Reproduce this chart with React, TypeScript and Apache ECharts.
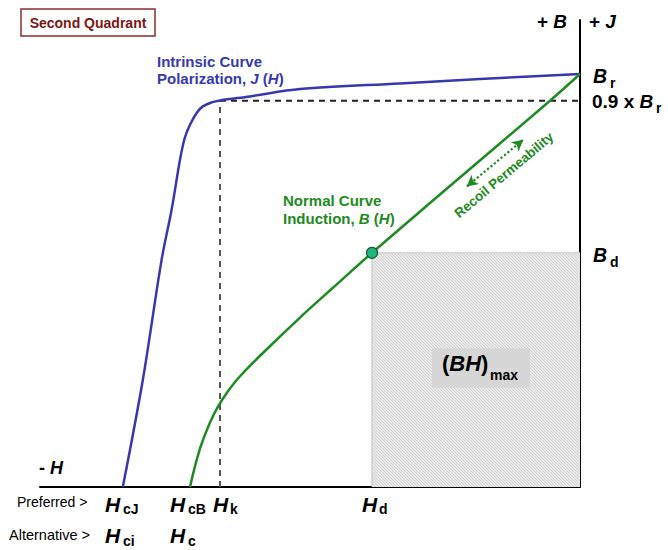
import React, { useEffect, useRef } from "react";
import * as echarts from "echarts";

// Field strength H (negative, second quadrant) and flux density / polarization values
const intrinsicH = [-1143, -1093, -1046, -1021, -1000, -988, -975, -958, -943, -921, -900, -825, -700, -450, -250, 0];
const intrinsicJ = [0, 321, 681, 831, 981, 1047, 1086, 1122, 1141, 1153, 1159, 1171, 1193, 1210, 1223, 1238];
const normalH = [-975, -951, -925, -904, -883, -850, -783, -700, -617, -520, -345, -75, 0];
const normalB = [0, 111, 193, 243, 282, 332, 413, 508, 598, 702, 882, 1158, 1238];
const kneeH = -900; // Hk
const kneeJ = 1158; // 0.9 x Br
const operatingH = -520; // Hd
const operatingB = 702; // Bd
const hRange = [-1350, 0];
const bRange = [0, 1400];
const recoilArrow = [[-283, 901], [-142, 1041]];

const FONT = "'Liberation Sans', Arial, sans-serif";
const BLUE = "#3838ad";
const GREEN = "#1e8a22";

function tok(size: number, italic: boolean, color: string, weight = "bold") {
  return { fontSize: size, fontStyle: italic ? "italic" : "normal", fontWeight: weight, fontFamily: FONT, fill: color };
}

function txt(x: number, y: number, text: string, rich: any, align = "left", extra: any = {}) {
  return {
    type: "text",
    x,
    y,
    silent: true,
    z: 100,
    ...extra,
    style: { text, rich, textAlign: align, textVerticalAlign: "middle", fontFamily: FONT },
  };
}

export default function App() {
  const ref = useRef<HTMLDivElement>(null);
  useEffect(() => {
    if (!ref.current) return;
    const chart = echarts.init(ref.current, undefined, { renderer: "svg" });
    const blueData = intrinsicH.map((h, i) => [h, intrinsicJ[i]]);
    const greenData = normalH.map((h, i) => [h, normalB[i]]);
    chart.setOption({
      animation: false,
      grid: { left: 40, right: 88, top: 20, bottom: 63 },
      xAxis: {
        type: "value",
        min: hRange[0],
        max: hRange[1],
        axisLine: { show: true, onZero: false, lineStyle: { color: "#000", width: 2 } },
        axisTick: { show: false },
        axisLabel: { show: false },
        splitLine: { show: false },
      },
      yAxis: {
        type: "value",
        position: "right",
        min: bRange[0],
        max: bRange[1],
        axisLine: { show: true, onZero: false, lineStyle: { color: "#000", width: 2 } },
        axisTick: { show: false },
        axisLabel: { show: false },
        splitLine: { show: false },
      },
      series: [
        {
          type: "custom",
          silent: true,
          z: 1,
          data: [[operatingH, operatingB]],
          renderItem: (params: any, api: any) => {
            const p0 = api.coord([api.value(0), api.value(1)]);
            const p1 = api.coord([0, 0]);
            const x0 = p0[0], y0 = p0[1], x1 = p1[0], y1 = p1[1];
            const children: any[] = [
              { type: "rect", shape: { x: x0, y: y0, width: x1 - x0, height: y1 - y0 }, style: { fill: "#ececec" } },
            ];
            const step = 3;
            for (let c = y0 - x1; c <= y1 - x0; c += step) {
              const sx = Math.max(x0, y0 - c);
              const ex = Math.min(x1, y1 - c);
              if (ex > sx) {
                children.push({
                  type: "line",
                  shape: { x1: sx, y1: sx + c, x2: ex, y2: ex + c },
                  style: { stroke: "#c4c4c4", lineWidth: 0.8 },
                });
              }
            }
            children.push({ type: "line", shape: { x1: x0, y1: y0, x2: x0, y2: y1 }, style: { stroke: "#bdbdbd", lineWidth: 1 } });
            children.push({ type: "line", shape: { x1: x0, y1: y0, x2: x1, y2: y0 }, style: { stroke: "#c8c8c8", lineWidth: 1 } });
            return { type: "group", children };
          },
        },
        {
          type: "line",
          data: [[kneeH, 0], [kneeH, kneeJ]],
          symbol: "none",
          silent: true,
          z: 2,
          lineStyle: { color: "#555", width: 2, type: [6, 5] },
        },
        {
          type: "line",
          data: [[kneeH, kneeJ], [0, kneeJ]],
          symbol: "none",
          silent: true,
          z: 2,
          lineStyle: { color: "#222", width: 2, type: [6, 5] },
        },
        {
          type: "line",
          data: blueData,
          symbol: "none",
          smooth: 0.35,
          silent: true,
          z: 3,
          lineStyle: { color: BLUE, width: 2.5 },
        },
        {
          type: "line",
          data: greenData,
          symbol: "none",
          smooth: 0.4,
          silent: true,
          z: 3,
          lineStyle: { color: GREEN, width: 2.5 },
          markLine: {
            silent: true,
            symbol: ["arrow", "arrow"],
            symbolSize: [9, 11],
            label: { show: false },
            lineStyle: { color: GREEN, width: 2.2, type: "dotted" },
            data: [[{ coord: recoilArrow[0] }, { coord: recoilArrow[1] }]],
          },
        },
        {
          type: "scatter",
          data: [[operatingH, operatingB]],
          symbolSize: 11,
          silent: true,
          z: 5,
          itemStyle: { color: "#22b580", borderColor: "#0d5a2c", borderWidth: 1.2, opacity: 1 },
        },
      ],
    });

    const px = (h: number, b: number) => chart.convertToPixel({ gridIndex: 0 }, [h, b]) as number[];
    const pd = px(operatingH, operatingB);
    const p0 = px(0, 0);
    const cx = (pd[0] + p0[0]) / 2 + 5;
    const cy = (pd[1] + p0[1]) / 2 - 2;

    const black = "#000";
    const H = (x: number, y: number, sub: string, sx: number, sy: number) => [
      txt(x, y, "{i|H}", { i: tok(21, true, black) }),
      txt(sx, sy, "{s|" + sub + "}", { s: tok(14, false, black) }),
    ];

    const graphic: any[] = [
      {
        type: "rect",
        shape: { x: 21, y: 9, width: 134, height: 27 },
        style: { fill: "#fff", stroke: "#8a2e2e", lineWidth: 1.5 },
        silent: true,
        z: 100,
      },
      txt(88, 22.5, "{n|Second Quadrant}", { n: tok(14, false, "#7a1616") }, "center"),
      txt(157, 61, "{n|Intrinsic Curve}", { n: tok(15, false, BLUE) }),
      txt(157, 78, "{n|Polarization, }{i|J}{n| (}{i|H}{n|)}", { n: tok(15, false, BLUE), i: tok(15, true, BLUE) }),
      txt(283, 200, "{n|Normal Curve}", { n: tok(15, false, GREEN) }),
      txt(283, 218, "{n|Induction, }{i|B}{n| (}{i|H}{n|)}", { n: tok(15, false, GREEN), i: tok(15, true, GREEN) }),
      txt(504, 175, "{n|Recoil Permeability}", { n: tok(13.5, false, GREEN) }, "center", { rotation: 0.7 }),
      txt(567, 21, "{n|+ }{i|B}", { n: tok(19, false, black), i: tok(19, true, black) }, "right"),
      txt(589, 21, "{n|+ }{i|J}", { n: tok(19, false, black), i: tok(19, true, black) }),
      txt(593, 76, "{i|B}", { i: tok(19.5, true, black) }),
      txt(610, 83, "{s|r}", { s: tok(14, false, black) }),
      txt(592, 101, "{n|0.9 x }{i|B}", { n: tok(19, false, black), i: tok(19, true, black) }),
      txt(656, 108, "{s|r}", { s: tok(14, false, black) }),
      txt(593, 255, "{i|B}", { i: tok(19.5, true, black) }),
      txt(610, 262, "{s|d}", { s: tok(14, false, black) }),
      txt(39, 468, "{n|- }{i|H}", { n: tok(18, false, black), i: tok(18, true, black) }),
      txt(17, 502, "{n|Preferred >}", { n: tok(14, false, black, "normal") }),
      txt(9, 535, "{n|Alternative >}", { n: tok(14.5, false, black, "normal") }),
      ...H(105, 504, "cJ", 123, 509),
      ...H(170, 504, "cB", 188, 509),
      ...H(213, 504, "k", 230, 509),
      ...H(362, 504, "d", 379, 509),
      ...H(105, 535, "ci", 123, 540.5),
      ...H(170, 535, "c", 188, 540.5),
      {
        type: "rect",
        shape: { x: cx - 49, y: cy - 19.5, width: 98, height: 39 },
        style: { fill: "#d6d6d6" },
        silent: true,
        z: 90,
      },
      txt(cx - 39, cy - 4, "{n|(}{i|BH}{n|)}", { n: tok(22, false, black), i: tok(22, true, black) }),
      txt(cx + 9, cy + 7, "{s|max}", { s: tok(14, false, black) }),
    ];
    chart.setOption({ graphic });
    return () => chart.dispose();
  }, []);
  return <div ref={ref} style={{ position: "absolute", left: 0, top: 0, width: 668, height: 550 }} />;
}
